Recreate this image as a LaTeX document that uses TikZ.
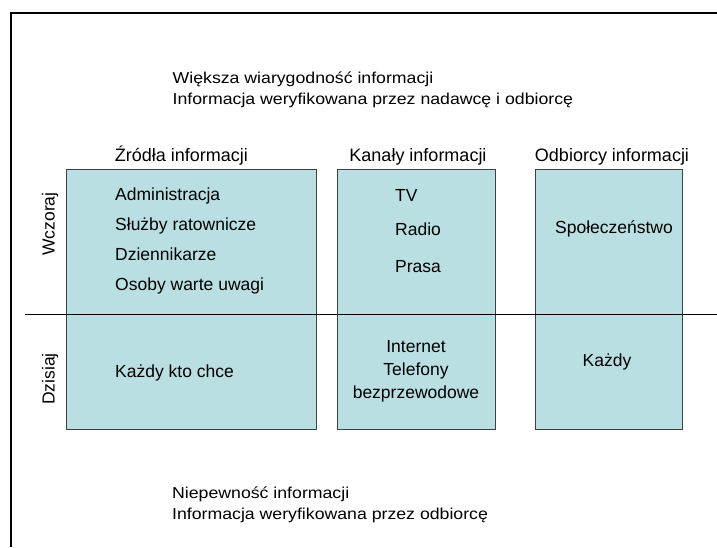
\documentclass[tikz,border=0pt]{standalone}
\usepackage{fontspec}
\setmainfont{Liberation Sans}
\newfontfamily\widefont[FakeStretch=1.12]{Liberation Sans}
\usetikzlibrary{positioning}
\definecolor{panelteal}{RGB}{186,223,226}

\begin{document}
\begin{tikzpicture}[x=1pt, y=-1pt, font=\fontsize{17.5}{23}\selectfont,
  every panel/.style={draw=black!75, fill=panelteal, line width=0.8pt, minimum height=260pt, inner sep=0pt},
  every note/.style={font=\widefont\fontsize{15.8}{20.8}\selectfont, anchor=base west, inner sep=0pt},
  every item/.style={anchor=base west, inner sep=0pt},
  every centred/.style={anchor=base, inner sep=0pt}]

\useasboundingbox (0,0) rectangle (717,547);

% frame of the slide
\coordinate (corner) at (11,13);
\coordinate (frame-bottom) at (11,547);
\coordinate (frame-right) at (717,13);
\draw[line width=2pt] (frame-bottom) -- (corner) -- (frame-right);

% panels
\foreach \n/\x/\w in {zrodla/191/250, kanaly/416/158, odbiorcy/608.5/147}
  \node [every panel/.try, minimum width=\w pt] (panel-\n) at (\x,299) {};

% headers
\foreach \n/\x/\l in {zrodla/181.5/Źródła informacji, kanaly/418/Kanały informacji, odbiorcy/612/Odbiorcy informacji}
  \node [every centred/.try, font=\fontsize{18}{22}\selectfont] (header-\n) at (\x,161) {\l};

% divider between yesterday and today
\coordinate (divider-west) at (25,314);
\coordinate (divider-east) at (717,314);
\draw [line width=1pt] (divider-west) -- (divider-east);

% row labels
\node [rotate=90, anchor=base] (row-wczoraj) at (54.5,224) {Wczoraj};
\node [rotate=90, anchor=base] (row-dzisiaj) at (54.5,379) {Dzisiaj};

% sources
\foreach \l [count=\i] in {Administracja, Służby ratownicze, Dziennikarze, Osoby warte uwagi}
  \node [every item/.try] (zrodla-\i) at (115,170+\i*30) {\l};
\node [every item/.try] (zrodla-now) at (115,377) {Każdy kto chce};

% channels
\foreach \l/\y [count=\i] in {TV/201, Radio/235, Prasa/272}
  \node [every item/.try] (kanaly-\i) at (395,\y) {\l};
\foreach \l [count=\i] in {Internet, Telefony, bezprzewodowe}
  \node [every centred/.try] (kanaly-now-\i) at (416,329+\i*23) {\l};

% receivers
\node [every centred/.try] (odbiorcy-then) at (614,233) {Społeczeństwo};
\node [every centred/.try] (odbiorcy-now) at (607,366) {Każdy};

% notes above and below
\foreach \l [count=\i] in {Większa wiarygodność informacji, Informacja weryfikowana przez nadawcę i odbiorcę}
  \node [every note/.try] (note-top-\i) at (172.5,63+\i*20.5) {\l};
\foreach \l [count=\i] in {Niepewność informacji, Informacja weryfikowana przez odbiorcę}
  \node [every note/.try] (note-bottom-\i) at (172,477.5+\i*21) {\l};

\end{tikzpicture}
\end{document}
